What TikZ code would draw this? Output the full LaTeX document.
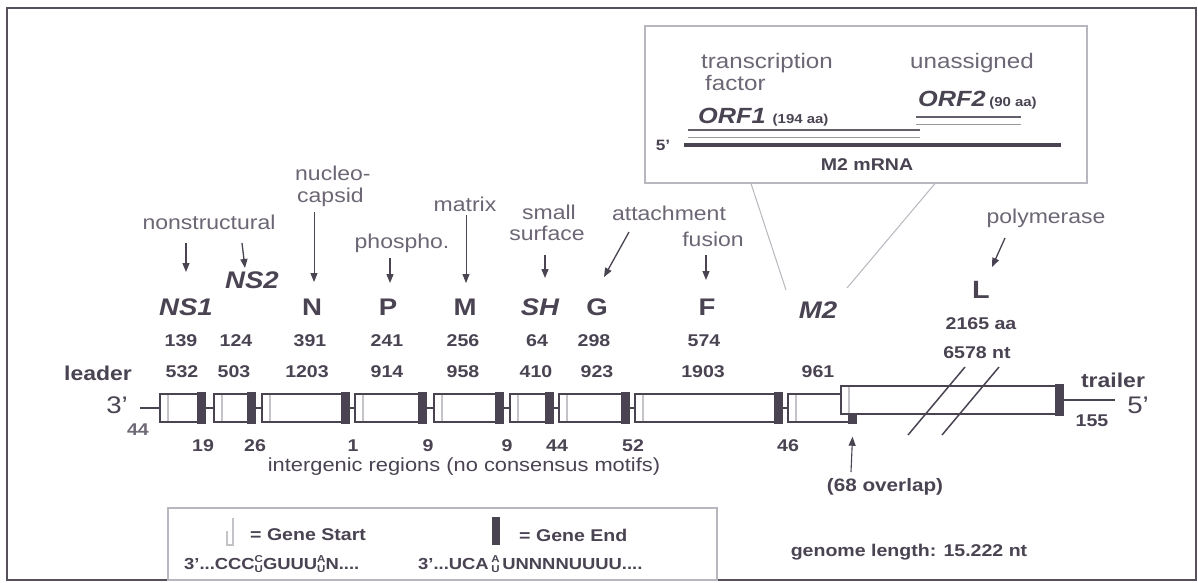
\documentclass[tikz,border=0pt]{standalone}
\usepackage{fontspec}
\setmainfont[FakeStretch=1.15]{Liberation Sans}
\usetikzlibrary{arrows.meta,calc}
\newcommand\fs[1]{\fontsize{#1}{#1}\selectfont}
\newcommand\stk[2]{\raisebox{-3pt}{\fs{10}\shortstack{#1\\#2}}}
\definecolor{ink}{HTML}{4A4352}
\definecolor{lab}{HTML}{6C6675}
\definecolor{frm}{HTML}{55505A}
\definecolor{lightc}{HTML}{B8B6BE}
\definecolor{startc}{HTML}{C4C3C8}
\newcommand\gbx[4]{%
  \pgfmathsetmacro\gw{#3-#2}%
  \node[gbox, minimum width=\gw pt] (#1) at (#2,#4) {};
  \fill[ink] ($(#1.north east)+(-9,-1)$) rectangle ($(#1.south east)+(0,1)$);
  \draw[startln] ($(#1.north west)+(9,2)$) -- ($(#1.south west)+(9,-2)$);
}
\begin{document}
\begin{tikzpicture}[x=1pt,y=-1pt,
  lbl/.style={text=lab, inner sep=0, font=\fs{20}},
  gname/.style={text=ink, inner sep=0, font=\fs{24}\bfseries},
  gnamei/.style={text=ink, inner sep=0, font=\fs{24}\bfseries\itshape},
  num/.style={text=ink, inner sep=0, font=\fs{17}\bfseries},
  arr/.style={draw=ink, line width=1.3pt, -{Triangle[length=9pt,width=7pt]}},
  arrthin/.style={draw=ink, line width=0.8pt, -{Triangle[length=9pt,width=7pt]}},
  gbox/.style={draw=ink, line width=1.5pt, fill=white, minimum height=28pt, inner sep=0, anchor=west},
  startln/.style={draw=startc, line width=1.2pt},
  link/.style={draw=ink, line width=1.6pt},
  conn/.style={draw=lightc, line width=1pt}]
\useasboundingbox (0,0) rectangle (1198,582);
\fill[white] (0,0) rectangle (1198,582);
\draw[frm, line width=2pt] (7,8) rectangle (1196,580);

% ---------- inset ----------
\node[draw=lightc, line width=1.5pt, minimum width=442pt, minimum height=157pt, inner sep=0, anchor=north west] (inset) at (644,25) {};
\node[lbl, anchor=west, font=\fs{21}] (tf1) at (701,63) {transcription};
\node[lbl, anchor=west, font=\fs{21}] (tf2) at (705,83) {factor};
\node[lbl, font=\fs{21}] (unas) at (972,63) {unassigned};
\node[text=ink, inner sep=0, anchor=base west, font=\fs{22}\bfseries\itshape] (orf1) at (698,123) {ORF1 {\fs{13}\upshape (194 aa)}};
\node[text=ink, inner sep=0, anchor=base west, font=\fs{22}\bfseries\itshape] (orf2) at (918,106) {ORF2\,{\fs{13}\upshape(90 aa)}};
\draw[ink!85, line width=1.3pt] (688,130) -- (920,130);
\draw[ink!55, line width=1pt] (688,137) -- (920,137);
\draw[ink!85, line width=1.3pt] (916,117) -- (1021,117);
\draw[ink!55, line width=1pt] (916,124) -- (1021,124);
\node[text=ink, inner sep=0, font=\fs{15}\bfseries] (five) at (663,145) {5'};
\draw[ink, line width=3.5pt] (684,145) -- (1061,145);
\node[text=ink, inner sep=0, font=\fs{17}\bfseries] (mrna) at (867,165) {M2 mRNA};

% ---------- function labels ----------
\node[lbl] (nonstr) at (209,222) {nonstructural};
\node[lbl, anchor=west] (nuc1) at (295,173) {nucleo-};
\node[lbl, anchor=west] (nuc2) at (297,197) {capsid};
\node[lbl] (phos) at (402,243) {phospho.};
\node[lbl] (matr) at (465,204) {matrix};
\node[lbl] (small) at (549,212) {small};
\node[lbl] (surf) at (547,233) {surface};
\node[lbl] (attach) at (669,213) {attachment};
\node[lbl] (fus) at (713,239) {fusion};
\node[lbl] (poly) at (1046,218) {polymerase};

% ---------- gene names ----------
\node[gnamei] (ns1) at (186,307) {NS1};
\node[gnamei] (ns2) at (252,280) {NS2};
\node[gname] (n) at (312,307) {N};
\node[gname] (p) at (388,307) {P};
\node[gname] (m) at (465,307) {M};
\node[gnamei] (sh) at (540,307) {SH};
\node[gname] (g) at (597,307) {G};
\node[gname] (f) at (707,307) {F};
\node[gnamei] (m2) at (818,310) {M2};
\node[gname, font=\fs{25}\bfseries] (l) at (981,290) {L};

% ---------- arrows ----------
\draw[arr] ($(ns1)+(0,-64)$) -- ($(ns1)+(0,-35)$);
\draw[arr] ($(ns2)+(-10,-37)$) -- ($(ns2)+(-7,-12)$);
\draw[arrthin] ($(n)+(2,-95)$) -- ($(n)+(2,-25)$);
\draw[arr] ($(p)+(2,-49)$) -- ($(p)+(2,-24)$);
\draw[arrthin] ($(m)+(1,-92)$) -- ($(m)+(1,-24)$);
\draw[arr] ($(sh)+(5,-52)$) -- ($(sh)+(5,-29)$);
\draw[arr] ($(g)+(32,-75)$) -- ($(g)+(7,-30)$);
\draw[arr] ($(f)+(-1,-52)$) -- ($(f)+(-1,-27)$);
\draw[arr] ($(l)+(24,-52)$) -- ($(l)+(11,-23)$);

% ---------- connectors from inset ----------
\draw[conn] ($(inset.south west)+(107,0)$) -- ($(m2)+(-32,-20)$);
\draw[conn] ($(inset.south west)+(291,0)$) -- ($(m2)+(29,-22)$);

% ---------- numbers ----------
\node[num] (a1) at (181,341) {139};
\node[num] (a2) at (236,341) {124};
\node[num] (a3) at (310,341) {391};
\node[num] (a4) at (387,341) {241};
\node[num] (a5) at (463,341) {256};
\node[num] (a6) at (537,341) {64};
\node[num] (a7) at (594,341) {298};
\node[num] (a8) at (704,341) {574};
\node[num] (laa) at (981,324) {2165 aa};
\node[num] (lnt) at (977,353) {6578 nt};
\node[text=ink, inner sep=0, font=\fs{20}\bfseries] (leader) at (98,373) {leader};
\node[num] (n1) at (182,372) {532};
\node[num] (n2) at (234,372) {503};
\node[num] (n3) at (307,372) {1203};
\node[num] (n4) at (387,372) {914};
\node[num] (n5) at (463,372) {958};
\node[num] (n6) at (536,372) {410};
\node[num] (n7) at (597,372) {923};
\node[num] (n8) at (703,372) {1903};
\node[num] (n9) at (818,372) {961};
\node[text=ink, inner sep=0, font=\fs{20}\bfseries] (trailer) at (1113,380) {trailer};

% ---------- genome bar ----------
\gbx{bNS1}{159}{204}{408}
\gbx{bNS2}{213}{254}{408}
\gbx{bN}{261}{348}{408}
\gbx{bP}{354}{425}{408}
\gbx{bM}{433}{502}{408}
\gbx{bSH}{509}{552}{408}
\gbx{bG}{558}{628}{408}
\gbx{bF}{634}{781}{408}
\gbx{bM2}{787}{855}{408}
\gbx{bL}{840}{1062}{400}
\coordinate (lead) at (140,408);
\coordinate (trail) at (1115,400);
\draw[link] (lead) -- (bNS1.west);
\draw[link] (bNS1.east) -- (bNS2.west);
\draw[link] (bNS2.east) -- (bN.west);
\draw[link] (bN.east) -- (bP.west);
\draw[link] (bP.east) -- (bM.west);
\draw[link] (bM.east) -- (bSH.west);
\draw[link] (bSH.east) -- (bG.west);
\draw[link] (bG.east) -- (bF.west);
\draw[link] (bF.east) -- (bM2.west);
\draw[link] (bL.east) -- (trail);
\draw[ink, line width=1.5pt] (965,367) -- (908,435);
\draw[ink, line width=1.5pt] (999,367) -- (942,435);
\node[text=ink, inner sep=0, font=\fs{24}] (three) at (117,405) {3'};
\node[text=ink, inner sep=0, font=\fs{24}] (fiveb) at (1138,405) {5'};
\node[num, text=ink!80] (l44) at (138,430) {44};
\node[num] (t155) at (1092,421) {155};

% ---------- intergenic ----------
\node[num] (i1) at (203,446) {19};
\node[num] (i2) at (255,446) {26};
\node[num] (i3) at (353,446) {1};
\node[num] (i4) at (428,446) {9};
\node[num] (i5) at (507,446) {9};
\node[num] (i6) at (557,446) {44};
\node[num] (i7) at (633,446) {52};
\node[num] (i8) at (788,446) {46};
\node[text=ink, inner sep=0, font=\fs{19}] (inter) at (464,467) {intergenic regions (no consensus motifs)};
\node[text=ink, inner sep=0, font=\fs{18}\bfseries] (ovl) at (885,487) {(68 overlap)};
\coordinate (ovla) at (851,472);
\draw[arrthin, line width=1.1pt] (ovla) -- ($(bM2.south east)+(-4,14)$);

% ---------- legend ----------
\draw[lightc, line width=1.5pt] (168,508) rectangle (717,580);
\draw[startc, line width=1.2pt] (227,531) -- (227,545) -- (233,545) -- (233,518);
\node[text=ink, inner sep=0, anchor=west, font=\fs{17}\bfseries] (gs) at (250,535) {= Gene Start};
\fill[ink] (492,517) rectangle (500,545);
\node[text=ink, inner sep=0, anchor=west, font=\fs{17}\bfseries] (ge) at (519,535) {= Gene End};
\node[text=ink, inner sep=0, anchor=west, font=\fs{16}\bfseries] (seq1) at (184,564) {3'...CCC\stk{C}{U}GUUU\stk{A}{U}N....};
\node[text=ink, inner sep=0, anchor=west, font=\fs{16}\bfseries] (seq2) at (418,564) {3'...UCA\,\stk{A}{U}\,UNNNNUUUU....};
\node[text=ink, inner sep=0, font=\fs{17}\bfseries] (glen) at (909,552) {genome length: 15.222 nt};
\end{tikzpicture}
\end{document}
